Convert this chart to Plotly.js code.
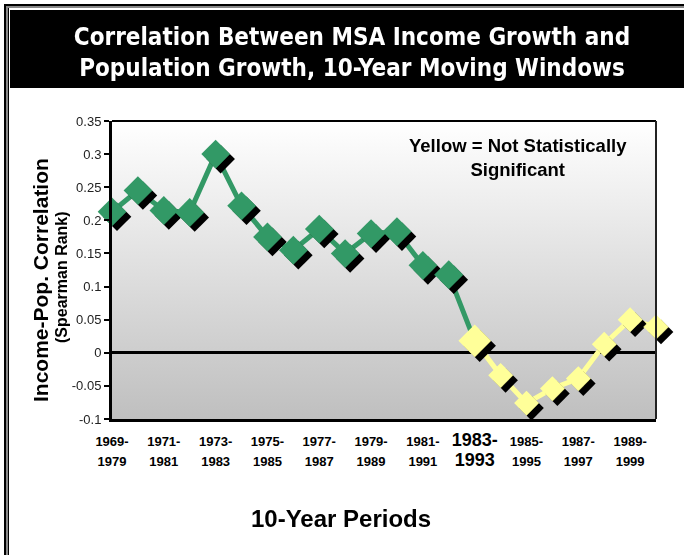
<!DOCTYPE html>
<html>
<head>
<meta charset="utf-8">
<script src="https://cdn.plot.ly/plotly-3.0.1.min.js"></script>
<style>
  html, body { margin: 0; padding: 0; background: #fff; }
  #chart { width: 684px; height: 555px; }
</style>
</head>
<body>
<svg width="0" height="0" style="position:absolute">
  <defs>
    <filter id="shd" x="-20%" y="-20%" width="140%" height="140%">
      <feOffset in="SourceAlpha" dx="5" dy="5" result="off"/>
      <feFlood flood-color="#000000" result="blk"/>
      <feComposite in="blk" in2="off" operator="in" result="shadow"/>
      <feMerge>
        <feMergeNode in="shadow"/>
        <feMergeNode in="SourceGraphic"/>
      </feMerge>
    </filter>
  </defs>
</svg>
<div id="chart"></div>
<script>
// ---- data ----
const categories = [
  "1969-1979","1970-1980","1971-1981","1972-1982","1973-1983","1974-1984",
  "1975-1985","1976-1986","1977-1987","1978-1988","1979-1989","1980-1990",
  "1981-1991","1982-1992","1983-1993","1984-1994","1985-1995","1986-1996",
  "1987-1997","1988-1998","1989-1999","1990-2000"
];
const correlation = [
  0.213, 0.245, 0.215, 0.212, 0.300, 0.222,
  0.175, 0.155, 0.187, 0.150, 0.180, 0.183,
  0.132, 0.118, 0.018, -0.034, -0.076, -0.054,
  -0.039, 0.013, 0.050, 0.039
];
const significant = [
  true, true, true, true, true, true,
  true, true, true, true, true, true,
  true, true, false, false, false, false,
  false, false, false, false
];
const highlightedPeriod = "1983-1993";
const labelledPeriods = [
  "1969-1979","1971-1981","1973-1983","1975-1985","1977-1987","1979-1989",
  "1981-1991","1983-1993","1985-1995","1987-1997","1989-1999"
];
const yTickValues = [-0.1, -0.05, 0, 0.05, 0.1, 0.15, 0.2, 0.25, 0.3, 0.35];

// ---- styling ----
const GREEN = "#339966";
const YELLOW = "#FFFF99";
const W = 684, H = 555;
const M = { l: 112, r: 28, t: 121, b: 136 };
const PW = W - M.l - M.r, PH = H - M.t - M.b;
const px = v => (v - M.l) / PW;          // pixel x -> paper x
const py = v => (H - M.b - v) / PH;      // pixel y -> paper y

const lastSig = significant.lastIndexOf(true);
const greenX = categories.slice(0, lastSig + 2);
const greenY = correlation.slice(0, lastSig + 2);
const yellowX = categories.slice(lastSig + 1);
const yellowY = correlation.slice(lastSig + 1);

const markerColors = significant.map(s => s ? GREEN : YELLOW);
const markerSizes = categories.map((c, i) => c === highlightedPeriod ? 25 : (significant[i] ? 22 : 19));

const tickText = labelledPeriods.map(p => {
  const [a, b] = p.split("-");
  const fs = p === highlightedPeriod ? 18 : 13;
  return `<span style="font-size:${fs}px">${a}-</span><br><span style="font-size:${fs}px">${b}</span>`;
});

const gradSvg = "<svg xmlns='http://www.w3.org/2000/svg' width='10' height='100' preserveAspectRatio='none'>" +
  "<defs><linearGradient id='g' x1='0' y1='0' x2='0' y2='1'>" +
  "<stop offset='0' stop-color='#ffffff'/><stop offset='1' stop-color='#bfbfbf'/>" +
  "</linearGradient></defs><rect width='10' height='100' fill='url(#g)'/></svg>";
const gradUri = "data:image/svg+xml;charset=utf-8," + encodeURIComponent(gradSvg);

const traces = [
  { type: "scatter", mode: "lines", x: greenX, y: greenY,
    line: { color: GREEN, width: 5 }, hoverinfo: "skip", showlegend: false },
  { type: "scatter", mode: "lines", x: yellowX, y: yellowY,
    line: { color: YELLOW, width: 5 }, hoverinfo: "skip", showlegend: false },
  { type: "scatter", mode: "markers", x: categories, y: correlation,
    cliponaxis: false,
    marker: { symbol: "diamond", color: markerColors, size: markerSizes, opacity: 1, line: { width: 0 } },
    showlegend: false }
];

const layout = {
  width: W, height: H,
  margin: M,
  paper_bgcolor: "#ffffff",
  plot_bgcolor: "rgba(0,0,0,0)",
  font: { family: "Liberation Sans, Arial, sans-serif", color: "#000" },
  showlegend: false,
  title: {
    text: "Correlation Between MSA Income Growth and<br>Population Growth, 10-Year Moving Windows",
    font: { family: "DejaVu Sans Condensed, DejaVu Sans, sans-serif", size: 24, color: "#ffffff", weight: "bold" },
    xref: "paper", x: px(352), xanchor: "center",
    yref: "container", y: 1 - 45 / H, yanchor: "middle"
  },
  xaxis: {
    type: "category",
    range: [0, categories.length - 1],
    tickmode: "array",
    tickvals: labelledPeriods,
    ticktext: tickText,
    tickfont: { size: 15, color: "#000", weight: "bold" },
    ticks: "",
    ticklabelstandoff: 6,
    showgrid: false,
    zeroline: false,
    showline: true, linecolor: "#000", linewidth: 3,
    fixedrange: true
  },
  yaxis: {
    range: [-0.1, 0.35],
    tickmode: "array",
    tickvals: yTickValues,
    ticktext: yTickValues.map(v => String(v)),
    tickfont: { size: 13, color: "#222" },
    ticks: "outside", ticklen: 5, tickwidth: 2, tickcolor: "#000",
    showgrid: false,
    zeroline: true, zerolinecolor: "#000", zerolinewidth: 3,
    showline: true, linecolor: "#000", linewidth: 3,
    fixedrange: true
  },
  images: [{
    source: gradUri, xref: "paper", yref: "paper",
    x: 0, y: 1, sizex: 1, sizey: 1, xanchor: "left", yanchor: "top",
    sizing: "stretch", layer: "below"
  }],
  shapes: [
    // title banner
    { type: "rect", xref: "paper", yref: "paper", layer: "below",
      x0: px(10), x1: px(700), y0: py(88), y1: py(10),
      fillcolor: "#000", line: { width: 0 } },
    // outer frame: left
    { type: "line", xref: "paper", yref: "paper", layer: "below",
      x0: px(5), x1: px(5), y0: py(4), y1: py(560), line: { color: "#000", width: 2 } },
    { type: "line", xref: "paper", yref: "paper", layer: "below",
      x0: px(7), x1: px(7), y0: py(6), y1: py(560), line: { color: "#888", width: 2 } },
    { type: "line", xref: "paper", yref: "paper", layer: "below",
      x0: px(8.5), x1: px(8.5), y0: py(8), y1: py(560), line: { color: "#000", width: 1 } },
    // outer frame: top
    { type: "line", xref: "paper", yref: "paper", layer: "below",
      x0: px(4), x1: px(700), y0: py(5), y1: py(5), line: { color: "#000", width: 2 } },
    { type: "line", xref: "paper", yref: "paper", layer: "below",
      x0: px(6), x1: px(700), y0: py(7), y1: py(7), line: { color: "#888", width: 2 } },
    // plot frame: top and right
    { type: "line", xref: "paper", yref: "paper",
      x0: 0, x1: 1, y0: 1, y1: 1, line: { color: "#000", width: 2 } },
    { type: "line", xref: "paper", yref: "paper",
      x0: 1, x1: 1, y0: 0, y1: 1, line: { color: "#222", width: 2 } }
  ],
  annotations: [
    { text: "<b>Income-Pop. Correlation</b>", xref: "paper", yref: "paper",
      x: px(40), y: py(280), xanchor: "center", yanchor: "middle", textangle: -90,
      showarrow: false, font: { size: 21, color: "#000" } },
    { text: "<b>(Spearman Rank)</b>", xref: "paper", yref: "paper",
      x: px(61), y: py(277), xanchor: "center", yanchor: "middle", textangle: -90,
      showarrow: false, font: { size: 16, color: "#000" } },
    { text: "<b>10-Year Periods</b>", xref: "paper", yref: "paper",
      x: px(341), y: py(518), xanchor: "center", yanchor: "middle",
      showarrow: false, font: { size: 24, color: "#000" } },
    { text: "<b>Yellow = Not Statistically<br>Significant</b>", xref: "paper", yref: "paper",
      x: px(518), y: py(157), xanchor: "center", yanchor: "middle", align: "center",
      showarrow: false, font: { size: 18.5, color: "#000" } }
  ]
};

Plotly.newPlot("chart", traces, layout, { displayModeBar: false, staticPlot: true }).then(gd => {
  const groups = gd.querySelectorAll(".scatterlayer .trace");
  const last = groups[groups.length - 1];
  const pts = last && last.querySelector("g.points");
  if (pts) pts.setAttribute("filter", "url(#shd)");
});
</script>
</body>
</html>
